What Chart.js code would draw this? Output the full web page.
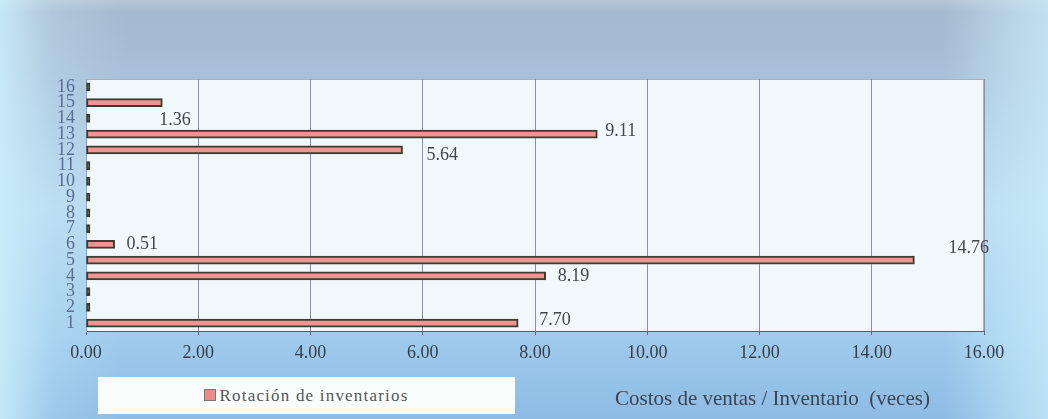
<!DOCTYPE html>
<html>
<head>
<meta charset="utf-8">
<script src="https://cdn.jsdelivr.net/npm/chart.js@4.4.1/dist/chart.umd.min.js"></script>
<style>
  html, body { margin: 0; padding: 0; }
  body { width: 1048px; height: 419px; overflow: hidden; position: relative; }
  #wrap { position: absolute; left: 0; top: 0; width: 1048px; height: 419px; }
  #legend {
    position: absolute; left: 98px; top: 377px; width: 417px; height: 37px;
    background: #fbfdfd; font-family: "Liberation Serif", serif; font-size: 17px;
    color: #555; line-height: 37px; text-align: center; letter-spacing: 1.2px;
  }
  #legend span.box {
    display: inline-block; width: 10px; height: 10px; background: #ee8a8a;
    border: 1px solid #777; margin-right: 3px; vertical-align: 0px;
  }
  #xtitle {
    position: absolute; left: 615px; top: 386px; font-family: "Liberation Serif", serif;
    font-size: 21px; color: #3e4450; white-space: pre;
  }
</style>
</head>
<body>
<div id="wrap"><canvas id="graph"></canvas></div>
<div id="legend"><span class="box"></span>Rotación de inventarios</div>
<div id="xtitle">Costos de ventas / Inventario  (veces)</div>
<script>
// Données du graphique :
const categories = ["1", "2", "3", "4", "5", "6", "7", "8", "9", "10", "11", "12", "13", "14", "15", "16"];
const rotacion = [7.70, 0, 0, 8.19, 14.76, 0.51, 0, 0, 0, 0, 0, 5.64, 9.11, 0, 1.36, 0];
const xTicks = [0, 2, 4, 6, 8, 10, 12, 14, 16];

// Décalage des étiquettes (dx, dy) par rapport au bout de la barre :
const labelOffsets = {
  0: [21, -3], 3: [12, 0], 4: [34, -12], 5: [12, 0],
  11: [24, 5], 12: [8, -3], 14: [-3, 18]
};

// Fond dégradé et zone de tracé :
const background = {
  id: "background",
  beforeDraw(chart) {
    const ctx = chart.ctx;
    const w = chart.width, h = chart.height;
    ctx.save();
    let g = ctx.createLinearGradient(0, 0, 0, h);
    g.addColorStop(0, "#b7c6d6");
    g.addColorStop(0.03, "#a5b9cf");
    g.addColorStop(0.18, "#a8c0d9");
    g.addColorStop(0.5, "#b6d9ef");
    g.addColorStop(0.8, "#9fcbec");
    g.addColorStop(1, "#8dbbe4");
    ctx.fillStyle = g;
    ctx.fillRect(0, 0, w, h);
    g = ctx.createLinearGradient(0, 0, w, 0);
    g.addColorStop(0, "rgba(205,240,252,0.85)");
    g.addColorStop(0.05, "rgba(205,240,252,0.25)");
    g.addColorStop(0.12, "rgba(205,240,252,0)");
    g.addColorStop(0.9, "rgba(205,240,252,0)");
    g.addColorStop(0.96, "rgba(205,240,252,0.45)");
    g.addColorStop(1, "rgba(205,240,252,0.7)");
    ctx.fillStyle = g;
    ctx.fillRect(0, 0, w, h);
    const a = chart.chartArea;
    ctx.fillStyle = "#f1f8fc";
    ctx.fillRect(a.left, a.top, a.right - a.left, a.bottom - a.top);
    ctx.strokeStyle = "#a9afbf";
    ctx.lineWidth = 1;
    ctx.strokeRect(a.left + 0.5, a.top + 0.5, a.right - a.left - 1, a.bottom - a.top);
    ctx.restore();
  }
};

// Étiquettes de valeurs :
const valueLabels = {
  id: "valueLabels",
  afterDatasetsDraw(chart) {
    const ctx = chart.ctx;
    const meta = chart.getDatasetMeta(0);
    ctx.save();
    ctx.font = "18px 'Liberation Serif', serif";
    ctx.fillStyle = "#45474f";
    ctx.textBaseline = "middle";
    ctx.textAlign = "left";
    meta.data.forEach((bar, i) => {
      const off = labelOffsets[i];
      if (!off) return;
      ctx.fillText(rotacion[i].toFixed(2), bar.x + off[0], bar.y + off[1]);
    });
    ctx.restore();
  }
};

const chart = new Chart(document.getElementById("graph"), {
  type: "bar",
  data: {
    labels: categories,
    datasets: [{
      label: "Rotación de inventarios",
      data: rotacion,
      backgroundColor: c => (c.raw === 0 ? "#2e302a" : "#f09494"),
      borderColor: "#3b3d30",
      borderWidth: 2,
      borderSkipped: false,
      barThickness: 8,
      minBarLength: 4
    }]
  },
  options: {
    indexAxis: "y",
    responsive: true,
    maintainAspectRatio: false,
    animation: false,
    layout: { padding: { top: 79, right: 64, left: 0, bottom: 0 } },
    plugins: {
      legend: { display: false },
      tooltip: { enabled: false }
    },
    scales: {
      x: {
        min: 0,
        max: 16,
        afterBuildTicks(axis) { axis.ticks = xTicks.map(v => ({ value: v })); },
        afterFit(axis) { axis.height = 88; },
        ticks: {
          callback: v => Number(v).toFixed(2),
          font: { family: "'Liberation Serif', serif", size: 18 },
          color: "#3a3c4a",
          padding: 7,
          maxRotation: 0
        },
        grid: { color: "#8a90ac", lineWidth: 1, tickLength: 4, tickColor: "#667" },
        border: { color: "#5a5e6c", width: 1 }
      },
      y: {
        reverse: true,
        afterFit(axis) { axis.width = 86; },
        ticks: {
          font: { family: "'Liberation Serif', serif", size: 18, lineHeight: 1 },
          color: "#5a6e94",
          padding: 3,
          autoSkip: false
        },
        grid: { display: false },
        border: { color: "#9aa4b8", width: 1, dash: [2, 2] }
      }
    }
  },
  plugins: [background, valueLabels]
});
</script>
</body>
</html>
